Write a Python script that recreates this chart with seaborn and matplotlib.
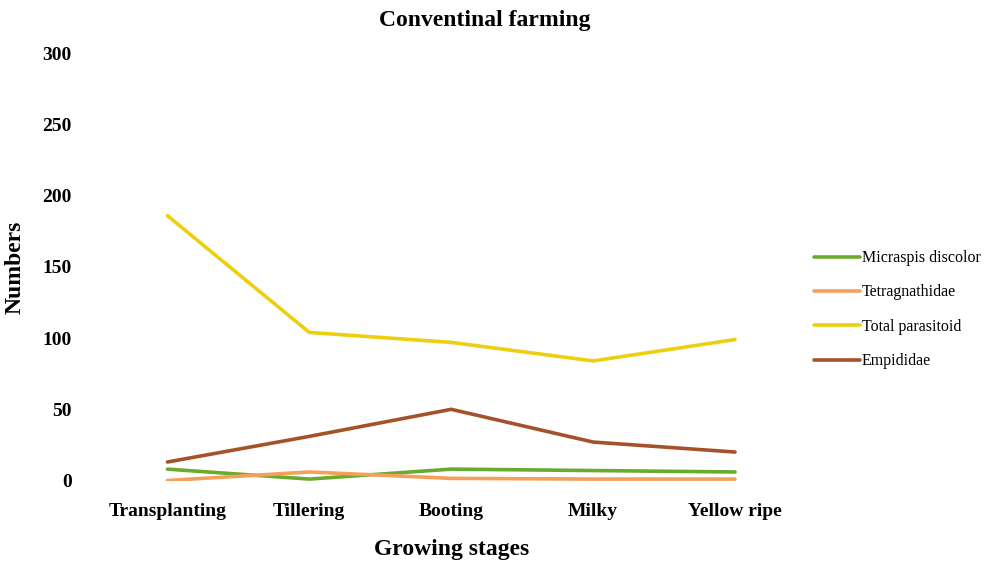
import matplotlib
matplotlib.use("Agg")
import matplotlib.pyplot as plt
import seaborn as sns
import pandas as pd

stages = ["Transplanting", "Tillering", "Booting", "Milky", "Yellow ripe"]
micraspis = [8, 1, 8, 7, 6]
tetragnathidae = [0, 6, 1.5, 1, 1]
total_parasitoid = [186, 104, 97, 84, 99]
empididae = [13, 31, 50, 27, 20]

series_names = ["Micraspis discolor", "Tetragnathidae", "Total parasitoid", "Empididae"]
series_values = [micraspis, tetragnathidae, total_parasitoid, empididae]
colors = ["#6aab2e", "#f5a05a", "#ecd010", "#a5522a"]

rows = []
for name, vals in zip(series_names, series_values):
    for i, (stage, v) in enumerate(zip(stages, vals)):
        rows.append({"stage": stage, "pos": i, "value": v, "series": name})
df = pd.DataFrame(rows)

sns.set_theme(style="white")
plt.rcParams["font.family"] = ["Liberation Serif", "DejaVu Serif"]
plt.rcParams["text.color"] = "black"
plt.rcParams["axes.labelcolor"] = "black"
plt.rcParams["xtick.color"] = "black"
plt.rcParams["ytick.color"] = "black"

fig = plt.figure(figsize=(9.95, 5.62), dpi=100)
ax = fig.add_axes([0.097, 0.145, 0.713, 0.76])

sns.lineplot(data=df, x="pos", y="value", hue="series", hue_order=series_names,
             palette=colors, linewidth=2.6, ax=ax, legend=True)

ax.set_xlim(-0.5, 4.5)
ax.set_ylim(0, 300)
ax.set_xticks(range(len(stages)))
ax.set_xticklabels(stages, fontsize=14, fontweight="bold")
ax.set_yticks([0, 50, 100, 150, 200, 250, 300])
ax.set_yticklabels(["0", "50", "100", "150", "200", "250", "300"],
                   fontsize=14, fontweight="bold")
ax.tick_params(axis="x", length=0, pad=16)
ax.tick_params(axis="y", length=0, pad=18)
for s in ax.spines.values():
    s.set_visible(False)

ax.set_xlabel("Growing stages", fontsize=17, fontweight="bold", labelpad=14)
ax.set_ylabel("Numbers", fontsize=17, fontweight="bold", labelpad=12)
fig.suptitle("Conventinal farming", fontsize=17, fontweight="bold", x=0.487, y=0.982)

handles, labels = ax.get_legend_handles_labels()
leg = ax.legend(handles, labels, loc="center left", bbox_to_anchor=(0.995, 0.40),
                frameon=False, fontsize=11.5, handlelength=2.9, handletextpad=0.1,
                labelspacing=1.15, borderaxespad=0.3)
for line in leg.get_lines():
    line.set_linewidth(2.6)

fig.savefig("out.png", dpi=100, facecolor="white")
